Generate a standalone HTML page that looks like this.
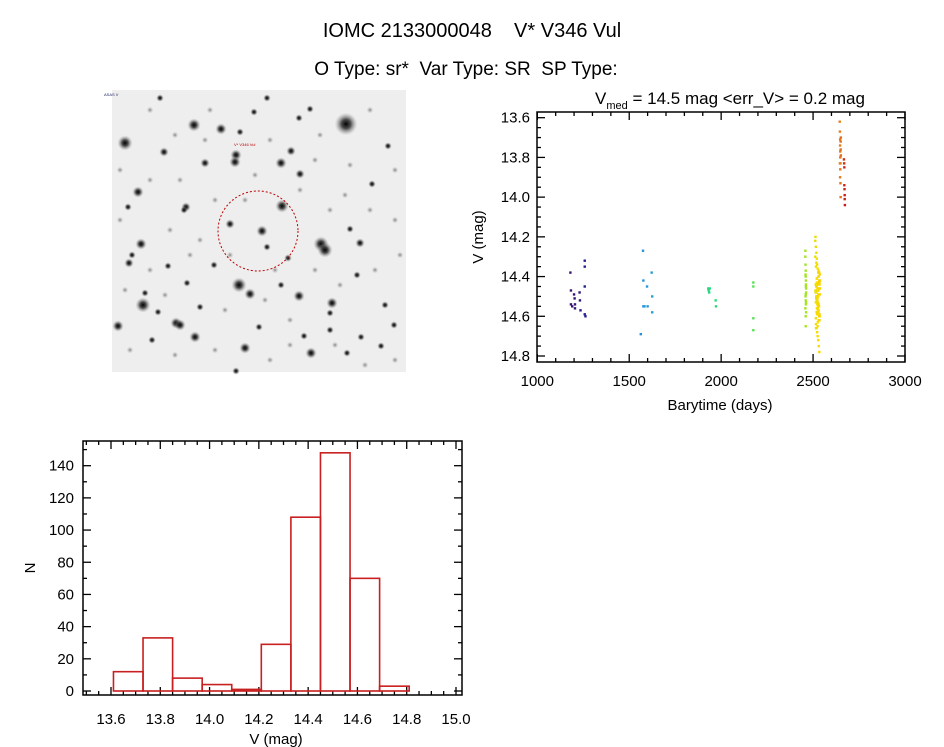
<!DOCTYPE html>
<html><head><meta charset="utf-8">
<style>
html,body{margin:0;padding:0;background:#fff;}
svg{display:block;font-family:"Liberation Sans",sans-serif;}
</style></head>
<body>
<svg id="root" width="944" height="747" viewBox="0 0 944 747">
<text x="472" y="37" text-anchor="middle" font-size="20" xml:space="preserve">IOMC 2133000048    V* V346 Vul</text>
<text x="466" y="75" text-anchor="middle" font-size="19" xml:space="preserve">O Type: sr*  Var Type: SR  SP Type:</text>

<g id="sky">
  <defs>
    <radialGradient id="star"><stop offset="0" stop-color="#000" stop-opacity="1"/><stop offset="0.4" stop-color="#222" stop-opacity="0.8"/><stop offset="1" stop-color="#999" stop-opacity="0"/></radialGradient>
    <radialGradient id="faint"><stop offset="0" stop-color="#666" stop-opacity="0.8"/><stop offset="1" stop-color="#bbb" stop-opacity="0"/></radialGradient>
  </defs>
  <rect x="112" y="90" width="294" height="282" fill="#eeeeee"/>
  <g id="stars"></g>
  <circle cx="258" cy="231" r="40" fill="none" stroke="#b00" stroke-width="1" stroke-dasharray="2,2"/>
  <text x="234" y="146" font-size="4" fill="#b00">V* V346 Vul</text>
  <text x="104" y="96" font-size="4" fill="#226">ASAS V</text>
</g>

<g id="lc">
  <text x="730" y="104" text-anchor="middle" font-size="17">V<tspan font-size="11" dy="5">med</tspan><tspan dy="-5"> = 14.5 mag &lt;err_V&gt; = 0.2 mag</tspan></text>
  <g id="lcTicks"></g>
  <g id="lcPts"></g>
  <rect x="537" y="112" width="368" height="250" fill="none" stroke="#000" stroke-width="1.5"/>
  <text x="720" y="410" text-anchor="middle" font-size="15">Barytime (days)</text>
  <text transform="translate(483,237) rotate(-90)" text-anchor="middle" font-size="15">V (mag)</text>
</g>

<g id="hist">
  <g id="hTicks"></g>
  <g id="hBars"></g>
  <rect x="83" y="441" width="379" height="254" fill="none" stroke="#000" stroke-width="1.5"/>
  <text x="276" y="744" text-anchor="middle" font-size="15">V (mag)</text>
  <text transform="translate(35,568) rotate(-90)" text-anchor="middle" font-size="15">N</text>
</g>
</svg>
<script>
// ---- Light curve data ----
const lcTimes = [1180,1183,1183,1190,1200,1203,1205,1205,1230,1232,1235,1258,1258,1258,1258,1262,
 1563,1575,1577,1577,1583,1597,1600,1622,1625,1625,
 1930,1932,1935,1938,1970,1972,
 2175,2175,2175,2175,
 2458,2458,2459,2460,2460,2461,2461,2462,2462,2459,2460,2461,2458,2462,2460,2461,2459,2460,2462,2460,
 2512,2515,2518,2520,2522,2525,2528,2530,2533,2535,2538,2514,2517,2520,2523,2526,2529,2532,2535,2516,2519,2522,2525,2528,2531,2534,2513,2518,2521,2524,2527,2530,2533,2536,2520,2524,2528,2532,2515,2522,2526,2530,2517,2523,2529,2535,2519,2527,
 2512,2516,2520,2524,2528,2532,2536,2514,2518,2522,2526,2530,2534,2538,2513,2517,2521,2525,2529,2533,2537,2515,2519,2523,2527,2531,2535,2516,2520,2524,
 2645,2646,2647,2647,2648,2648,2649,2650,2650,2651,2647,2649,2650,2646,2648,2651,2668,2669,2670,2670,2671,2672,2672,2673];
const lcMags = [14.38,14.47,14.54,14.55,14.49,14.51,14.54,14.56,14.48,14.52,14.57,14.32,14.35,14.45,14.59,14.60,
 14.69,14.27,14.42,14.55,14.55,14.45,14.55,14.38,14.50,14.58,
 14.46,14.47,14.48,14.46,14.52,14.55,
 14.43,14.45,14.61,14.67,
 14.27,14.30,14.34,14.37,14.40,14.42,14.44,14.46,14.48,14.50,14.52,14.54,14.56,14.58,14.60,14.45,14.39,14.49,14.53,14.65,
 14.22,14.25,14.28,14.31,14.34,14.36,14.38,14.40,14.42,14.44,14.46,14.48,14.50,14.52,14.54,14.56,14.58,14.60,14.62,14.64,14.66,14.68,14.70,14.72,14.75,14.78,14.20,14.33,14.41,14.47,14.53,14.57,14.43,14.39,14.45,14.51,14.49,14.55,14.61,14.59,14.63,14.37,14.45,14.52,14.47,14.43,14.50,14.55,
 14.30,14.35,14.41,14.46,14.50,14.55,14.60,14.44,14.48,14.52,14.57,14.62,14.38,14.42,14.47,14.51,14.56,14.65,14.40,14.46,14.49,14.53,14.58,14.44,14.50,14.54,14.59,14.66,14.43,14.47,
 13.62,13.67,13.71,13.74,13.77,13.80,13.83,13.72,13.76,13.79,13.90,13.93,14.00,13.83,13.86,13.70,13.81,13.83,13.85,13.94,13.96,13.99,14.01,14.04];
const lcXTicks = [1000,1500,2000,2500,3000];
const lcYTicks = [13.6,13.8,14.0,14.2,14.4,14.6,14.8];

// ---- Histogram data ----
const binEdges = [13.61,13.73,13.85,13.97,14.09,14.21,14.33,14.45,14.57,14.69,14.81];
const binCounts = [12,33,8,4,1,29,108,148,70,3];
const hXTicks = [13.6,13.8,14.0,14.2,14.4,14.6,14.8,15.0];
const hYTicks = [0,20,40,60,80,100,120,140];

const NS='http://www.w3.org/2000/svg';
function mk(t,a,p){const e=document.createElementNS(NS,t);for(const k in a)e.setAttribute(k,a[k]);p.appendChild(e);return e;}

const lcX = t => 537.3 + (t-1000)*(367.7/2000);
const lcY = m => 117.7 + (m-13.6)*(238.3/1.2);
const hX = v => 111 + (v-13.6)*(345/1.4);
const hY = n => 691 - n*(225.3/140);

const lt=document.getElementById('lcTicks');
for(let t=1000;t<=3000;t+=100){const x=lcX(t);const maj=t%500===0;const L=maj?8:4;
 mk('line',{x1:x,y1:362,x2:x,y2:362-L,stroke:'#000','stroke-width':1.3},lt);
 mk('line',{x1:x,y1:112,x2:x,y2:112+L,stroke:'#000','stroke-width':1.3},lt);}
for(let i=0;i<=24;i++){const m=13.6+i*0.05;const y=lcY(m);const maj=i%4===0;const L=maj?8:4;
 mk('line',{x1:537,y1:y,x2:537+L,y2:y,stroke:'#000','stroke-width':1.3},lt);
 mk('line',{x1:905,y1:y,x2:905-L,y2:y,stroke:'#000','stroke-width':1.3},lt);}
lcXTicks.forEach(t=>{const e=mk('text',{x:lcX(t),y:386,'text-anchor':'middle','font-size':15},lt);e.textContent=t;
 
 });
lcYTicks.forEach(m=>{const e=mk('text',{x:530,y:lcY(m)+5,'text-anchor':'end','font-size':15},lt);e.textContent=m.toFixed(1);
 
 });

function col(t){const f=Math.max(0,Math.min(1,(t-1180)/(2675-1180)));
 const stops=[[0,[60,20,110]],[0.06,[30,30,150]],[0.27,[40,150,220]],[0.52,[40,220,120]],[0.85,[150,230,40]],[0.9,[250,220,0]],[0.98,[230,130,30]],[1,[200,20,20]]];
 for(let i=1;i<stops.length;i++){if(f<=stops[i][0]){const a=stops[i-1],b=stops[i];const u=(f-a[0])/(b[0]-a[0]);
  return 'rgb('+a[1].map((c,j)=>Math.round(c+(b[1][j]-c)*u)).join(',')+')';}}
 return 'rgb(200,20,20)';}
const lp=document.getElementById('lcPts');
lcTimes.forEach((t,i)=>{const e=mk('rect',{x:lcX(t)-1.2,y:lcY(lcMags[i])-1.2,width:2.4,height:2.4,fill:col(t)},lp);
 
 });

const ht=document.getElementById('hTicks');
for(let i=-2;i<=28;i++){const v=13.6+i*0.05;const x=hX(v);if(x<83||x>462)continue;const maj=i%4===0;const L=maj?8:4;
 mk('line',{x1:x,y1:695,x2:x,y2:695-L,stroke:'#000','stroke-width':1.3},ht);
 mk('line',{x1:x,y1:441,x2:x,y2:441+L,stroke:'#000','stroke-width':1.3},ht);}
for(let n=0;n<=150;n+=10){const y=hY(n);const maj=n%20===0;const L=maj?8:4;
 mk('line',{x1:83,y1:y,x2:83+L,y2:y,stroke:'#000','stroke-width':1.3},ht);
 mk('line',{x1:462,y1:y,x2:462-L,y2:y,stroke:'#000','stroke-width':1.3},ht);}
hXTicks.forEach(v=>{const e=mk('text',{x:hX(v),y:724,'text-anchor':'middle','font-size':15},ht);e.textContent=v.toFixed(1);
 
 });
hYTicks.forEach(n=>{const e=mk('text',{x:74,y:hY(n)+5,'text-anchor':'end','font-size':15},ht);e.textContent=n;
 
 });
const hb=document.getElementById('hBars');
binCounts.forEach((c,i)=>{const x0=hX(binEdges[i]),x1=hX(binEdges[i+1]);
 const e=mk('rect',{x:x0,y:hY(c),width:x1-x0,height:hY(0)-hY(c),fill:'none',stroke:'#c82020','stroke-width':1.6},hb);
 
 });

// star field (decorative image pixels)
const starsPos=[[346,124,6],[125,143,4],[194,125,3.5],[221,129,3],[236,155,3],[281,163,3],[235,162,3],[205,163,2.5],[282,206,3.5],[138,192,3],[143,305,4],[321,244,4],[325,250,4],[141,244,3],[239,285,4],[250,294,3],[299,296,3],[332,303,3],[311,353,3],[176,323,3],[180,325,3],[118,326,3],[195,337,3],[245,348,3],[291,151,2.5],[300,174,2.5],[186,207,2.5],[230,224,2.5],[262,231,3],[164,152,2.5],[254,112,2],[145,293,2],[267,247,2],[281,285,2],[360,243,2.5],[357,275,2],[361,337,2],[347,353,2],[129,263,2.5],[158,312,2],[200,307,2],[259,327,2],[236,371,2],[184,210,2],[240,132,2],[310,109,2],[388,146,2],[372,184,2],[350,229,2],[385,305,2],[394,325,2],[160,98,2],[267,98,2],[299,118,2],[128,207,2],[132,255,2],[168,266,2],[187,283,2],[214,265,2],[288,258,2],[304,336,2],[330,313,2],[330,330,2],[381,346,2],[152,340,2]];
const faintPos=[[150,110],[175,135],[210,110],[270,140],[320,135],[370,110],[395,170],[120,170],[150,180],[170,230],[200,240],[215,200],[245,200],[300,190],[330,210],[370,210],[395,220],[120,220],[150,270],[190,255],[225,310],[265,300],[290,320],[340,285],[375,270],[400,255],[125,290],[165,295],[130,350],[175,355],[215,350],[270,360],[290,345],[335,345],[365,365],[395,360],[205,140],[255,175],[315,160],[350,165],[180,180],[275,270],[315,270],[345,195],[230,255]];
const sg=document.getElementById('stars');
faintPos.forEach(s=>{const e=mk('circle',{cx:s[0],cy:s[1],r:3.5,fill:'url(#faint)'},sg);
 
 });
starsPos.forEach(s=>{const e=mk('circle',{cx:s[0],cy:s[1],r:s[2]*1.9,fill:'url(#star)'},sg);
 
 });
</script>
</body></html>
